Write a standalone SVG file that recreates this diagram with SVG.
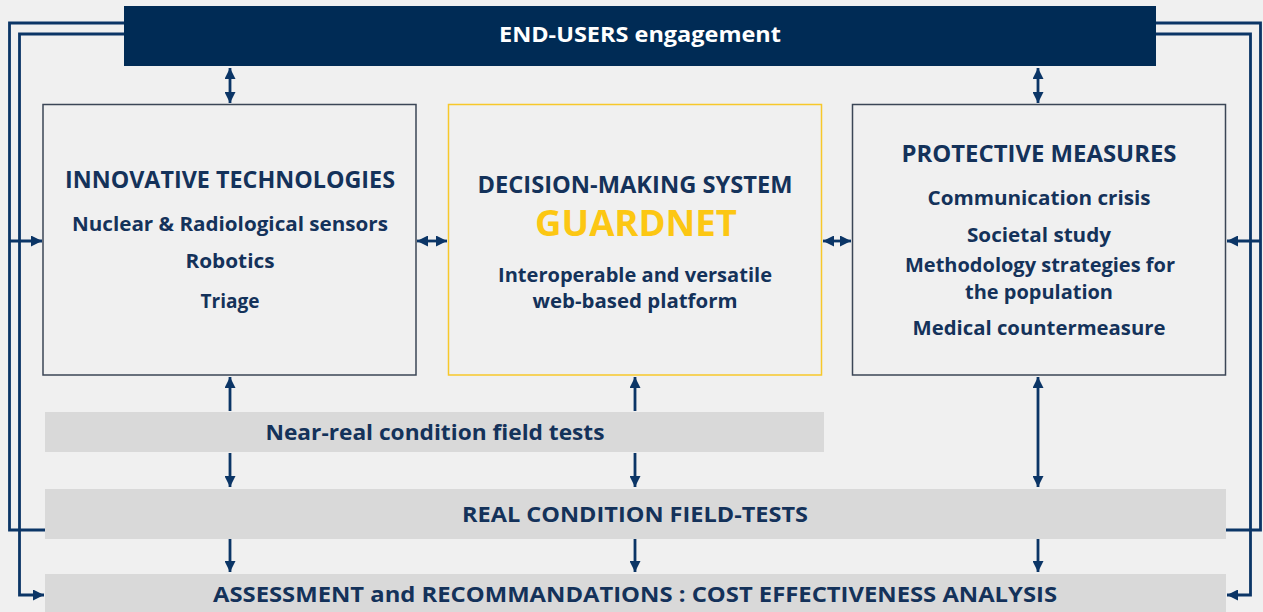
<svg xmlns="http://www.w3.org/2000/svg" width="1263" height="612" viewBox="0 0 1263 612">
<style>
text{font-family:"Open Sans","Liberation Sans",sans-serif;font-weight:700;fill:#14325a;text-anchor:middle}
.box{fill:none;stroke:#3b4656;stroke-width:1.5}
.bar{fill:#d9d9d9}
.ln{fill:none;stroke:#0b3566;stroke-width:2.8}
.t{font-size:22.5px}
.b{font-size:19.5px}
.g{font-size:21px}
</style>
<defs>
<marker id="ah" viewBox="0 0 10 10" refX="10" refY="5" markerWidth="11" markerHeight="11" markerUnits="userSpaceOnUse" orient="auto-start-reverse">
<path d="M0,0 L10,5 L0,10 Z" fill="#0b3566"/>
</marker>
</defs>
<rect width="1263" height="612" fill="#f0f0f0"/>
<g id="connectors">
<polyline class="ln" points="124,23 9.5,23 9.5,530 45,530"/>
<polyline class="ln" points="124,34 19.5,34 19.5,595 44,595" marker-end="url(#ah)"/>
<polyline class="ln" points="1156,23 1260.5,23 1260.5,530 1226,530"/>
<polyline class="ln" points="1156,34 1250.5,34 1250.5,595 1227,595" marker-end="url(#ah)"/>
<line class="ln" x1="9.5" y1="241" x2="42" y2="241" marker-end="url(#ah)"/>
<line class="ln" x1="1260.5" y1="241" x2="1227" y2="241" marker-end="url(#ah)"/>
<line class="ln" x1="230" y1="68" x2="230" y2="103" marker-start="url(#ah)" marker-end="url(#ah)"/>
<line class="ln" x1="1038" y1="68" x2="1038" y2="103" marker-start="url(#ah)" marker-end="url(#ah)"/>
<line class="ln" x1="417" y1="241" x2="447" y2="241" marker-start="url(#ah)" marker-end="url(#ah)"/>
<line class="ln" x1="823" y1="241" x2="851" y2="241" marker-start="url(#ah)" marker-end="url(#ah)"/>
<line class="ln" x1="230" y1="411" x2="230" y2="377" marker-end="url(#ah)"/>
<line class="ln" x1="635" y1="411" x2="635" y2="377" marker-end="url(#ah)"/>
<line class="ln" x1="1038" y1="377" x2="1038" y2="487" marker-start="url(#ah)" marker-end="url(#ah)"/>
<line class="ln" x1="230" y1="453" x2="230" y2="487" marker-end="url(#ah)"/>
<line class="ln" x1="635" y1="453" x2="635" y2="487" marker-end="url(#ah)"/>
<line class="ln" x1="230" y1="538" x2="230" y2="572" marker-end="url(#ah)"/>
<line class="ln" x1="635" y1="538" x2="635" y2="572" marker-end="url(#ah)"/>
<line class="ln" x1="1038" y1="538" x2="1038" y2="572" marker-end="url(#ah)"/>
</g>
<g id="end-users">
<rect x="124" y="6" width="1032" height="60" fill="#002b55"/>
<text x="640" y="42" class="g" style="fill:#ffffff" textLength="282" lengthAdjust="spacingAndGlyphs">END-USERS engagement</text>
</g>
<g id="innovative">
<rect class="box" x="43" y="104.5" width="373" height="270.5"/>
<text x="230" y="188" class="t" textLength="330" lengthAdjust="spacingAndGlyphs">INNOVATIVE TECHNOLOGIES</text>
<text x="230" y="231" class="b" textLength="316" lengthAdjust="spacingAndGlyphs">Nuclear &amp; Radiological sensors</text>
<text x="230" y="268" class="b" textLength="89" lengthAdjust="spacingAndGlyphs">Robotics</text>
<text x="230" y="308" class="b" textLength="59" lengthAdjust="spacingAndGlyphs">Triage</text>
</g>
<g id="decision">
<rect x="448.5" y="104.5" width="373" height="270.5" fill="none" stroke="#f7c82a" stroke-width="1.5"/>
<text x="635" y="193" class="t" textLength="315" lengthAdjust="spacingAndGlyphs">DECISION-MAKING SYSTEM</text>
<text x="636" y="236" style="font-size:35px;fill:#fcc713" textLength="202" lengthAdjust="spacingAndGlyphs">GUARDNET</text>
<text x="635" y="282" class="b" textLength="274" lengthAdjust="spacingAndGlyphs">Interoperable and versatile</text>
<text x="635" y="308" class="b" textLength="205" lengthAdjust="spacingAndGlyphs">web-based platform</text>
</g>
<g id="protective">
<rect class="box" x="852.5" y="104.5" width="373" height="270.5"/>
<text x="1039" y="162" class="t" textLength="275" lengthAdjust="spacingAndGlyphs">PROTECTIVE MEASURES</text>
<text x="1039" y="205" class="b" textLength="223" lengthAdjust="spacingAndGlyphs">Communication crisis</text>
<text x="1039" y="242" class="b" textLength="144" lengthAdjust="spacingAndGlyphs">Societal study</text>
<text x="1040" y="272" class="b" textLength="270" lengthAdjust="spacingAndGlyphs">Methodology strategies for</text>
<text x="1039" y="299" class="b" textLength="148" lengthAdjust="spacingAndGlyphs">the population</text>
<text x="1039" y="335" class="b" textLength="253" lengthAdjust="spacingAndGlyphs">Medical countermeasure</text>
</g>
<g id="near-real">
<rect class="bar" x="45" y="412" width="779" height="40"/>
<text x="435" y="440" class="g" textLength="339" lengthAdjust="spacingAndGlyphs">Near-real condition field tests</text>
</g>
<g id="real">
<rect class="bar" x="45" y="489" width="1181" height="50"/>
<text x="635" y="522" class="g" textLength="346" lengthAdjust="spacingAndGlyphs">REAL CONDITION FIELD-TESTS</text>
</g>
<g id="assessment">
<rect class="bar" x="45" y="574" width="1181" height="40"/>
<text x="635" y="602" class="g" textLength="844" lengthAdjust="spacingAndGlyphs">ASSESSMENT and RECOMMANDATIONS : COST EFFECTIVENESS ANALYSIS</text>
</g>
</svg>
